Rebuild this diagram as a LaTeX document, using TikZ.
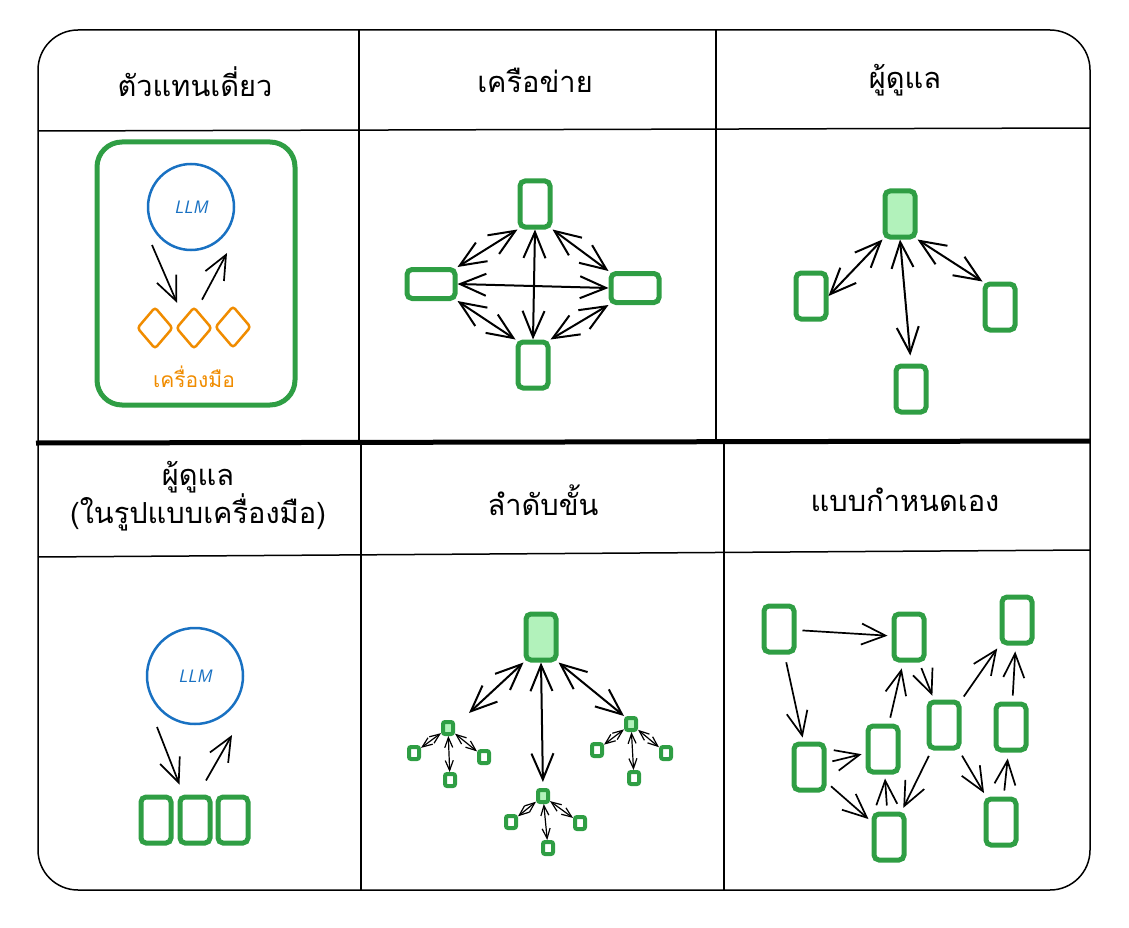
\documentclass[tikz,border=0pt]{standalone}
\usepackage{fontspec}
\usetikzlibrary{arrows.meta,shapes.geometric}
\newfontfamily\thaifont[Script=Thai]{Loma}
\definecolor{exgreen}{HTML}{2F9E44}
\definecolor{exlight}{HTML}{B2F2BB}
\definecolor{exblue}{HTML}{1971C2}
\definecolor{exorange}{HTML}{F08C00}
\tikzset{
  head/.style={font=\thaifont\fontsize{29}{35}\selectfont, align=center},
  agent/.style={draw=exgreen, line width=5pt, rounded corners=5pt, inner sep=0pt,
                minimum width=30pt, minimum height=46pt},
  wideagent/.style={agent, minimum width=48pt, minimum height=29pt},
  boss/.style={agent, fill=exlight},
  mini/.style={draw=exgreen, line width=4pt, rounded corners=2pt, inner sep=0pt,
               minimum width=10pt, minimum height=12pt},
  miniboss/.style={mini, fill=exlight},
  llm/.style={circle, draw=exblue, line width=2.5pt, minimum size=86pt, inner sep=0pt,
              text=exblue, font=\sffamily\itshape\fontsize{18}{18}\selectfont},
  tool/.style={diamond, draw=exorange, line width=2.5pt, rounded corners=3pt,
               minimum width=36pt, minimum height=42pt, inner sep=0pt},
  arr/.style={-{Straight Barb[length=24pt,width=21pt]}, line width=1.7pt},
  darr/.style={{Straight Barb[length=26pt,width=22pt]}-{Straight Barb[length=26pt,width=22pt]}, line width=2pt},
  sarr/.style={{Straight Barb[length=10pt,width=8pt]}-{Straight Barb[length=10pt,width=8pt]}, line width=1.2pt},
}
\begin{document}
\begin{tikzpicture}[x=1pt,y=-1pt]
\useasboundingbox (0,0) rectangle (1129,928);

% table
\draw[line width=1.5pt, rounded corners=40pt] (38,30) rectangle (1090,890);
\draw[line width=1.5pt] (38,131) -- (1090,128);
\draw[line width=5pt] (36,443) -- (1090,441);
\draw[line width=1.5pt] (38,557) -- (1090,550);
\draw[line width=1.5pt] (359,30) -- (359,443);
\draw[line width=1.5pt] (716,30) -- (716,443);
\draw[line width=1.5pt] (361,443) -- (361,890);
\draw[line width=1.5pt] (724,443) -- (724,890);

\node[head] (hSingle) at (195,82) {ตัวแทนเดี่ยว};
\node[head] (hNet) at (535,80) {เครือข่าย};
\node[head] (hSup) at (905,80) {ผู้ดูแล};
\node[head] (hSupTool) at (198,496) {ผู้ดูแล\\(ในรูปแบบเครื่องมือ)};
\node[head] (hHier) at (543,500) {ลำดับขั้น};
\node[head] (hCustom) at (905,500) {แบบกำหนดเอง};

% single agent
\draw[exgreen, line width=5pt, rounded corners=25pt] (97,142) rectangle (295,405);
\node[llm] (llmA) at (191,207) {LLM};
\node[tool] (toolA1) at (155,328) {};
\node[tool] (toolA2) at (194,328) {};
\node[tool] (toolA3) at (233,327) {};
\node[text=exorange, font=\thaifont\fontsize{21}{24}\selectfont] (toolsA) at (194,377) {เครื่องมือ};
\coordinate (downA) at (152,245);
\coordinate (upA) at (227,253);
\draw[arr] (downA) -- ([xshift=-17pt,yshift=3pt]toolA2.north);
\draw[arr] ([xshift=8pt,yshift=6pt]toolA2.north) -- (upA);

% network
\node[agent] (netTop) at (535,204) {};
\node[wideagent] (netLeft) at (431,284) {};
\node[wideagent] (netRight) at (635,288) {};
\node[agent] (netBot) at (533,365) {};
\draw[darr] (netTop.south west) -- (netLeft.north east);
\draw[darr] (netTop.south east) -- (netRight.north west);
\draw[darr] (netLeft.south east) -- (netBot.north west);
\draw[darr] (netRight.south west) -- (netBot.north east);
\draw[darr] (netLeft.east) -- (netRight.west);
\draw[darr] (netTop.south) -- (netBot.north);

% supervisor
\node[boss] (supTop) at (900,214) {};
\node[agent] (supLeft) at (811,296) {};
\node[agent] (supRight) at (1000,307) {};
\node[agent] (supBot) at (911,389) {};
\draw[darr] (supTop.south west) -- (supLeft.east);
\draw[darr, shorten >=8pt] (supTop.south) -- (supBot.north);
\draw[darr] (supTop.south east) -- (supRight.north west);

% supervisor (as tools)
\node[llm, minimum height=96pt] (llmB) at (195,676) {LLM};
\node[agent] (subB1) at (156,820) {};
\node[agent] (subB2) at (195,820) {};
\node[agent] (subB3) at (233,820) {};
\coordinate (downB) at (157,727);
\coordinate (upB) at (232,735);
\draw[arr] (downB) -- ([xshift=2pt,yshift=10pt]subB2.north west);
\draw[arr] ([xshift=11pt,yshift=14pt]subB2.north) -- (upB);

% hierarchical
\node[boss] (hTop) at (541,637) {};
\node[miniboss] (hMidL) at (448,728) {};
\node[miniboss] (hMidM) at (543,796) {};
\node[miniboss] (hMidR) at (631,724) {};
\draw[darr] (hTop.south west) -- ([xshift=14pt,yshift=7pt]hMidL.north east);
\draw[darr, shorten >=6pt] (hTop.south) -- (hMidM.north);
\draw[darr] (hTop.south east) -- (hMidR.north west);
\foreach \m/\a/\b/\c in {hMidL/{414,753}/{484,757}/{450,780},
                          hMidM/{511,822}/{580,823}/{548,848},
                          hMidR/{597,750}/{666,753}/{634,778}} {
  \node[mini] (\m a) at (\a) {};
  \node[mini] (\m b) at (\b) {};
  \node[mini] (\m c) at (\c) {};
  \draw[sarr] (\m) -- (\m a);
  \draw[sarr] (\m) -- (\m b);
  \draw[sarr] (\m) -- (\m c);
}

% custom
\node[agent] (cA) at (779,629) {};
\node[agent] (cB) at (909,637) {};
\node[agent] (cC) at (1017,620) {};
\node[agent] (cD) at (809,767) {};
\node[agent] (cE) at (883,749) {};
\node[agent] (cF) at (944,725) {};
\node[agent] (cG) at (1011,727) {};
\node[agent] (cH) at (889,837) {};
\node[agent] (cI) at (1001,822) {};
\draw[arr, shorten <=6pt, shorten >=4pt] (cA) -- (cB);
\draw[arr, shorten <=8pt, shorten >=4pt] (cA) -- (cD);
\draw[arr, shorten <=6pt, shorten >=4pt] (cD) -- (cE);
\draw[arr, shorten <=6pt, shorten >=4pt] (cD) -- (cH);
\draw[arr, shorten <=6pt, shorten >=4pt] (cH) -- (cE);
\draw[arr, shorten <=6pt, shorten >=6pt] (cE) -- (cB);
\draw[arr, shorten <=6pt, shorten >=4pt] (cB) -- (cF);
\draw[arr, shorten <=4pt, shorten >=4pt] (cF) -- (cC);
\draw[arr, shorten <=6pt, shorten >=4pt] (cF) -- (cH);
\draw[arr, shorten <=6pt, shorten >=4pt] (cF) -- (cI);
\draw[arr, shorten <=6pt, shorten >=6pt] (cI) -- (cG);
\draw[arr, shorten <=6pt, shorten >=6pt] (cG) -- (cC);
\end{tikzpicture}
\end{document}
